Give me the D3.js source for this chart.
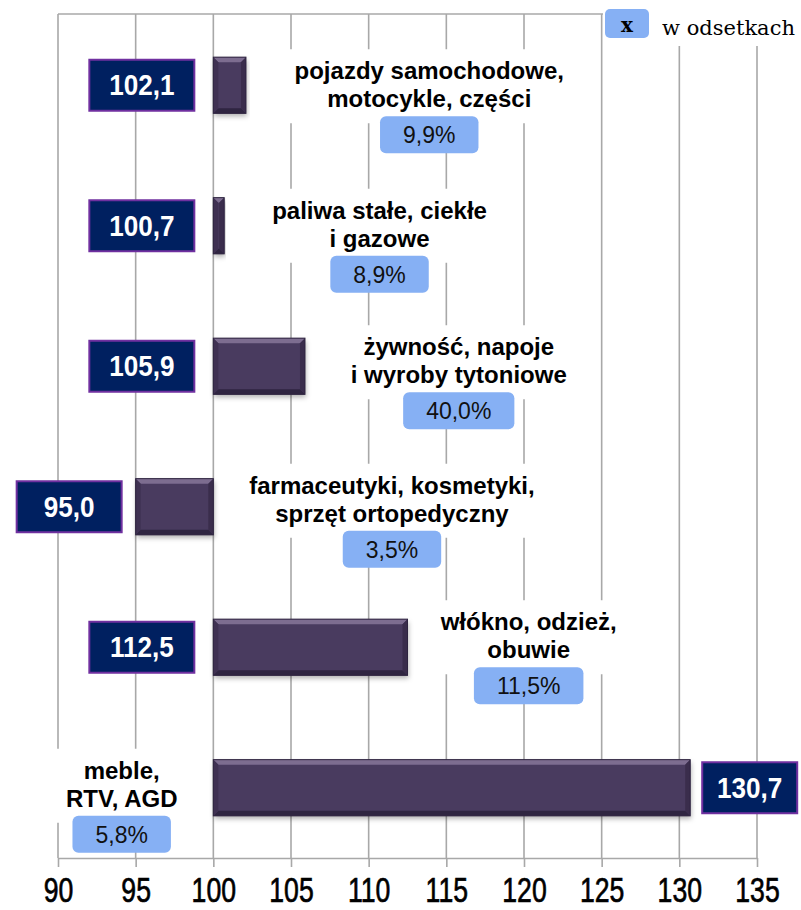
<!DOCTYPE html>
<html>
<head>
<meta charset="utf-8">
<script src="https://cdn.jsdelivr.net/npm/d3@7"></script>
<style>
  body { margin: 0; background: #fff; }
  svg { display: block; }
</style>
</head>
<body>
<div id="chart"></div>
<script>
// Chart data
const categoryLines = [
  ["pojazdy samochodowe,", "motocykle, części"],
  ["paliwa stałe, ciekłe", "i gazowe"],
  ["żywność, napoje", "i wyroby tytoniowe"],
  ["farmaceutyki, kosmetyki,", "sprzęt ortopedyczny"],
  ["włókno, odzież,", "obuwie"],
  ["meble,", "RTV, AGD"]
];
const values = [102.1, 100.7, 105.9, 95.0, 112.5, 130.7];
const shares = [9.9, 8.9, 40.0, 3.5, 11.5, 5.8];
const tickValues = [90, 95, 100, 105, 110, 115, 120, 125, 130, 135];
const legendKey = "x";
const legendText = "w odsetkach";

// Layout for the category labels (centre in axis units, top of the % box from bar centre)
const labelCenter = [113.9, 110.7, 115.8, 111.5, 120.3, 94.1];
const labelBoxTop = [31, 30, 26, 24, 20, 28];

const width = 801;
const height = 910;
const baseline = 100;

const svg = d3.select("#chart")
  .append("svg")
  .attr("width", width)
  .attr("height", height);

const defs = svg.append("defs");
const shadow = defs.append("filter").attr("id", "shadow")
  .attr("x", "-10%").attr("y", "-20%").attr("width", "120%").attr("height", "160%");
shadow.append("feDropShadow")
  .attr("dx", 1).attr("dy", 3).attr("stdDeviation", 2.5)
  .attr("flood-color", "#000").attr("flood-opacity", 0.3);

const x = d3.scaleLinear().domain([90, 135]).range([58, 757]);
const y = d3.scaleBand()
  .domain(d3.range(values.length))
  .range([15, 858])
  .paddingInner(0.6)
  .paddingOuter(0.3);

const fmt = v => d3.format(".1f")(v).replace(".", ",");

// grid
const grid = svg.append("g");
grid.selectAll("line")
  .data(tickValues)
  .join("line")
  .attr("x1", d => x(d)).attr("x2", d => x(d))
  .attr("y1", 14).attr("y2", 858)
  .attr("stroke", "#a8a8a8")
  .attr("stroke-width", 1.6);
grid.append("line")
  .attr("x1", x(90)).attr("x2", x(135))
  .attr("y1", 14).attr("y2", 14)
  .attr("stroke", "#a8a8a8")
  .attr("stroke-width", 1.6);

// x axis
const axis = svg.append("g")
  .attr("transform", "translate(0,858)")
  .call(d3.axisBottom(x).tickValues(tickValues).tickSize(9).tickSizeOuter(0));
axis.select(".domain").attr("stroke", "#a8a8a8").attr("stroke-width", 1.6);
axis.selectAll(".tick line").attr("stroke", "#a8a8a8").attr("stroke-width", 1.6);
axis.selectAll(".tick text")
  .attr("y", 44)
  .attr("dy", null)
  .attr("fill", "#000")
  .attr("stroke", "#000")
  .attr("stroke-width", 0.7)
  .attr("font-family", "'Liberation Sans', Arial, sans-serif")
  .attr("font-size", 36)
  .attr("transform", "scale(0.74,1)");

// legend
svg.append("rect")
  .attr("x", 603).attr("y", 0).attr("width", 198).attr("height", 46)
  .attr("fill", "#fff");
svg.append("rect")
  .attr("x", 605).attr("y", 9).attr("width", 44).attr("height", 29)
  .attr("rx", 5)
  .attr("fill", "#86b0f4");
svg.append("text")
  .attr("x", 627).attr("y", 32)
  .attr("text-anchor", "middle")
  .attr("font-family", "'DejaVu Serif', serif")
  .attr("font-weight", "bold")
  .attr("font-size", 20)
  .text(legendKey);
svg.append("text")
  .attr("x", 662).attr("y", 35)
  .attr("font-family", "'DejaVu Serif', serif")
  .attr("font-size", 21)
  .text(legendText);

// bars
const bevel = 5;
svg.append("g")
  .selectAll("g")
  .data(values)
  .join("g")
  .each(function (v, i) {
    const g = d3.select(this);
    const x0 = x(Math.min(v, baseline));
    const x1 = x(Math.max(v, baseline));
    const y0 = y(i);
    const y1 = y(i) + y.bandwidth();
    const b = Math.min(bevel, (x1 - x0) / 2);
    g.append("rect")
      .attr("x", x0).attr("y", y0)
      .attr("width", x1 - x0).attr("height", y1 - y0)
      .attr("fill", "#4a3a5e")
      .attr("filter", "url(#shadow)");
    const poly = (pts, fill) => g.append("polygon")
      .attr("points", pts.map(p => p.join(",")).join(" "))
      .attr("fill", fill);
    poly([[x0, y0], [x1, y0], [x1 - b, y0 + b], [x0 + b, y0 + b]], "#7d6d90");
    poly([[x0, y1], [x1, y1], [x1 - b, y1 - b], [x0 + b, y1 - b]], "#2f2541");
    poly([[x0, y0], [x0 + b, y0 + b], [x0 + b, y1 - b], [x0, y1]], "#3f3152");
    poly([[x1, y0], [x1 - b, y0 + b], [x1 - b, y1 - b], [x1, y1]], "#3a2d4c");
    g.append("rect")
      .attr("x", x0).attr("y", y0)
      .attr("width", x1 - x0).attr("height", y1 - y0)
      .attr("fill", "none")
      .attr("stroke", "#2e2440")
      .attr("stroke-width", 1);
  });

// value boxes
const boxW = 105;
const boxH = 51;
svg.append("g")
  .selectAll("g")
  .data(values)
  .join("g")
  .each(function (v, i) {
    const g = d3.select(this);
    const cy = y(i) + y.bandwidth() / 2;
    let left, w = boxW;
    if (v < baseline) left = x(v) - 14 - boxW;
    else if (v > 125) { left = x(v) + 12; w = 95; }
    else left = x(baseline) - 19 - boxW;
    g.append("rect")
      .attr("x", left).attr("y", cy - boxH / 2)
      .attr("width", w).attr("height", boxH)
      .attr("fill", "#002060")
      .attr("stroke", "#7030a0")
      .attr("stroke-width", 2);
    g.append("text")
      .attr("transform", `translate(${left + w / 2},${cy + 10}) scale(0.9,1)`)
      .attr("text-anchor", "middle")
      .attr("fill", "#fff")
      .attr("font-family", "'Liberation Sans', Arial, sans-serif")
      .attr("font-weight", "bold")
      .attr("font-size", 29)
      .text(fmt(v));
  });

// category labels with share boxes
svg.append("g")
  .selectAll("g")
  .data(categoryLines)
  .join("g")
  .each(function (lines, i) {
    const g = d3.select(this);
    const cx = x(labelCenter[i]);
    const cy = y(i) + y.bandwidth() / 2;
    const boxTop = cy + labelBoxTop[i];
    const bg = g.append("rect").attr("fill", "#fff");
    const txt = g.append("text")
      .attr("text-anchor", "middle")
      .attr("font-family", "'Liberation Sans', Arial, sans-serif")
      .attr("font-weight", "bold")
      .attr("font-size", 24)
      .attr("fill", "#000");
    lines.forEach((line, j) => {
      txt.append("tspan")
        .attr("x", cx)
        .attr("y", boxTop - 9 - (lines.length - 1 - j) * 28)
        .text(line);
    });
    const bb = txt.node().getBBox();
    bg.attr("x", bb.x - 10).attr("y", bb.y - 8)
      .attr("width", bb.width + 20)
      .attr("height", boxTop + 7 - (bb.y - 8));

    const pct = fmt(shares[i]) + "%";
    const pText = g.append("text")
      .attr("x", cx).attr("y", boxTop + 27)
      .attr("text-anchor", "middle")
      .attr("font-family", "'Liberation Sans', Arial, sans-serif")
      .attr("font-size", 23)
      .attr("fill", "#111")
      .text(pct);
    const tw = pText.node().getComputedTextLength();
    g.insert("rect", "text:last-child")
      .attr("x", cx - tw / 2 - 23).attr("y", boxTop)
      .attr("width", tw + 46).attr("height", 37)
      .attr("rx", 6)
      .attr("fill", "#86b0f4");
  });
</script>
</body>
</html>
